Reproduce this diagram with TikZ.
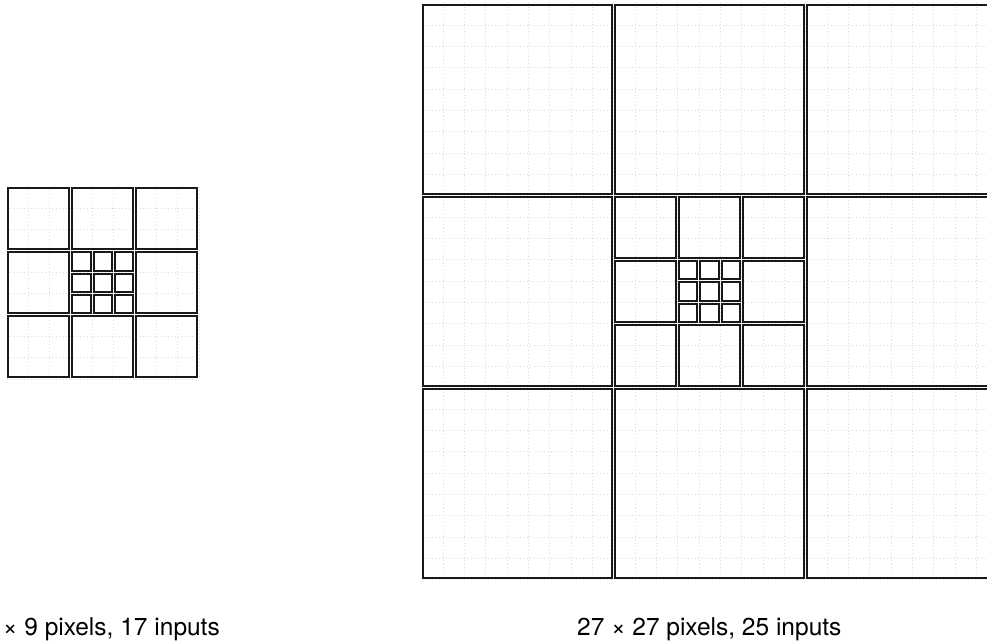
\documentclass[tikz,border=0pt]{standalone}
\usepackage{fontspec}
\setmainfont{TeX Gyre Heros}
\def\uu{21.333}
\def\gg{1.5}
\newcommand\cellbox[5]{%
  \draw[cell] ({#1+(#3)*\uu+\gg},{#2+(#4)*\uu+\gg}) rectangle ({#1+(#3+#5)*\uu-\gg},{#2+(#4+#5)*\uu-\gg});}
\newcommand\pixgridlines[3]{%
  \foreach \k in {1,...,#3} {
    \draw[pixgrid] ({#1+\k*\uu},{#2}) -- ({#1+\k*\uu},{#2+#3*\uu});
    \draw[pixgrid] ({#1},{#2+\k*\uu}) -- ({#1+#3*\uu},{#2+\k*\uu});
  }}
\tikzset{
  cell/.style={draw=black!90, line width=2pt},
  pixgrid/.style={draw=gray!28, line width=0.5pt, dash pattern=on 1pt off 2.5pt},
  caption/.style={anchor=base west, inner sep=0pt, font=\fontsize{24.5}{29}\selectfont}
}
\begin{document}
\begin{tikzpicture}[x=1pt, y=-1pt]
  \useasboundingbox (0,0) rectangle (987,642);
  \clip (0,0) rectangle (987,642);
  % left figure: 9 x 9 pixels
  \def\ox{6.8}\def\oy{186.8}
  \pixgridlines{\ox}{\oy}{9}
  \foreach \i/\j in {0/0,1/0,2/0,0/1,2/1,0/2,1/2,2/2}
    {\cellbox{\ox}{\oy}{3*\i}{3*\j}{3}}
  \foreach \i in {0,1,2} \foreach \j in {0,1,2}
    {\cellbox{\ox}{\oy}{3+\i}{3+\j}{1}}
  % right figure: 27 x 27 pixels
  \def\px{421.5}\def\py{3.5}
  \pixgridlines{\px}{\py}{27}
  \foreach \i/\j in {0/0,1/0,2/0,0/1,2/1,0/2,1/2,2/2}
    {\cellbox{\px}{\py}{9*\i}{9*\j}{9}}
  \foreach \i/\j in {0/0,1/0,2/0,0/1,2/1,0/2,1/2,2/2}
    {\cellbox{\px}{\py}{9+3*\i}{9+3*\j}{3}}
  \foreach \i in {0,1,2} \foreach \j in {0,1,2}
    {\cellbox{\px}{\py}{12+\i}{12+\j}{1}}
  % captions
  \node[caption] (capA) at (3,635) {× 9 pixels, 17 inputs};
  \node[caption] (capB) at (577,635) {27 × 27 pixels, 25 inputs};
\end{tikzpicture}
\end{document}
